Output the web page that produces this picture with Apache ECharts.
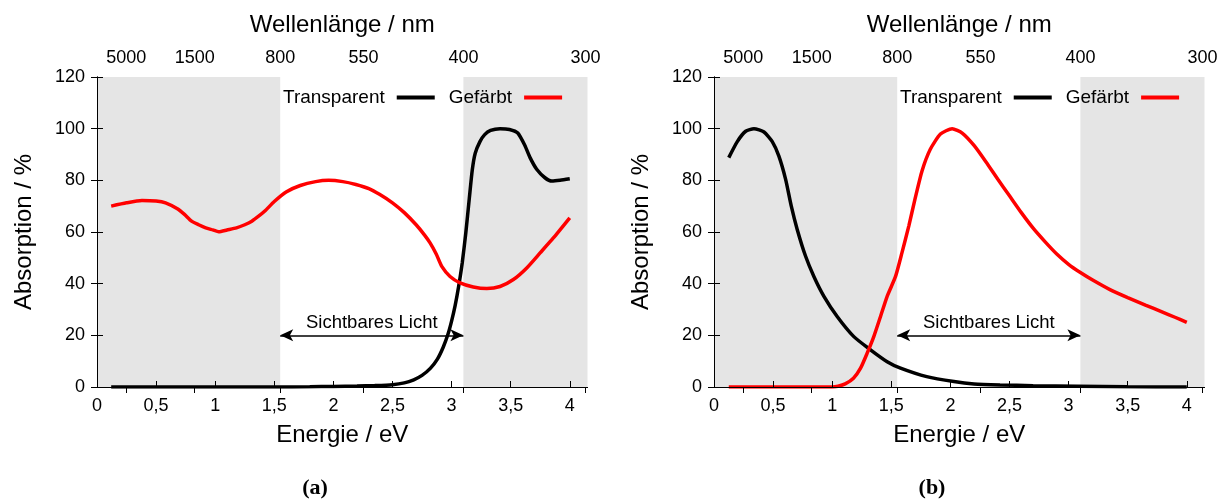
<!DOCTYPE html>
<html><head><meta charset="utf-8">
<script src="https://cdn.jsdelivr.net/npm/echarts@6/dist/echarts.min.js"></script>
<style>html,body{margin:0;padding:0;background:#fff}#c{width:1226px;height:499px}</style>
</head><body><div id="c"></div>
<script>
// ---- tick labels / categories ----
const energyTicks = [0, 0.5, 1, 1.5, 2, 2.5, 3, 3.5, 4];
const wavelengthTicks = [5000, 1500, 800, 550, 400, 300];
const visibleLimitsNm = [800, 400];
const arrowLevel = 20;
const seriesNames = ['Transparent', 'Gefärbt'];
const panelLabels = ['(a)', '(b)'];

// ---- panel (a) ----
const aTransparentX = [0.12, 0.5, 1.0, 1.5, 1.8, 2.0, 2.2, 2.35, 2.5, 2.6, 2.68, 2.75, 2.82, 2.88, 2.93, 2.97, 3.0, 3.03, 3.06, 3.09, 3.12, 3.15, 3.175, 3.2, 3.24, 3.28, 3.33, 3.41, 3.49, 3.56, 3.62, 3.664, 3.72, 3.79, 3.848, 3.918, 4.0];
const aTransparentY = [0, 0, 0, 0, 0.1, 0.2, 0.35, 0.55, 0.9, 1.6, 2.8, 4.5, 7.2, 10.8, 15.5, 20.5, 25.5, 31.5, 39, 48, 59.5, 73, 84, 90.5, 95, 97.7, 99.3, 100, 99.7, 98.3, 93.5, 88.8, 84.3, 81, 79.7, 80, 80.6];
const aColoredX = [0.12, 0.25, 0.38, 0.5, 0.58, 0.68, 0.74, 0.8, 0.86, 0.92, 0.98, 1.03, 1.1, 1.18, 1.25, 1.31, 1.37, 1.42, 1.5, 1.6, 1.72, 1.85, 1.96, 2.08, 2.19, 2.3, 2.39, 2.5, 2.6, 2.7, 2.77, 2.818, 2.87, 2.917, 2.987, 3.072, 3.184, 3.298, 3.41, 3.523, 3.636, 3.749, 3.861, 4.0];
const aColoredY = [70, 71.3, 72.2, 72, 71.3, 69, 66.8, 64.2, 62.8, 61.6, 60.8, 60.1, 60.8, 61.6, 62.8, 64.2, 66.2, 68.1, 71.8, 75.5, 78, 79.5, 80, 79.5, 78.4, 76.8, 74.6, 71.3, 67.5, 62.8, 58.9, 55.8, 51.5, 46.7, 42.8, 40.3, 38.7, 38.1, 38.9, 41.6, 46.1, 51.9, 57.7, 65.5];

// ---- panel (b) ----
const bTransparentX = [0.125, 0.197, 0.268, 0.338, 0.423, 0.493, 0.549, 0.606, 0.654, 0.704, 0.775, 0.845, 0.93, 1.042, 1.183, 1.324, 1.465, 1.578, 1.8, 2.03, 2.2, 2.42, 2.7, 3.08, 3.5, 4.0];
const bTransparentY = [88.8, 95, 99, 100, 98.7, 95, 89.4, 80.4, 70, 61, 50.6, 42.8, 35.1, 27.3, 19.5, 14.4, 9.8, 7.3, 4.0, 2.1, 1.2, 0.8, 0.5, 0.3, 0.1, 0];
const bColoredX = [0.125, 0.5, 1.0, 1.05, 1.11, 1.18, 1.24, 1.296, 1.352, 1.409, 1.465, 1.536, 1.59, 1.648, 1.70, 1.76, 1.83, 1.916, 2.015, 2.1, 2.2, 2.3, 2.4, 2.5, 2.6, 2.7, 2.8, 2.9, 3.0, 3.1, 3.2, 3.35, 3.5, 3.65, 3.8, 3.9, 4.0];
const bColoredY = [0, 0, 0, 0.3, 1.2, 3.4, 7.3, 13.1, 19.5, 27.3, 35.1, 42.8, 51.9, 62.3, 72.6, 83.6, 92, 97.9, 100, 98.3, 93.5, 87.2, 80.5, 74, 67.5, 61.5, 56.3, 51.5, 47.5, 44.3, 41.5, 37.7, 34.6, 31.7, 28.9, 27, 25];

const HC = 1240; // eV*nm
const E = nm => HC / nm;
const eMax = 4.15;
const FONT = 'Liberation Sans, Arial, Helvetica, sans-serif';
const pairs = (xs, ys) => xs.map((x, i) => [x, ys[i]]);

const grids = [
  { left: 97, top: 77, width: 490.5, height: 310 },
  { left: 714, top: 77, width: 490.5, height: 310 }
];

const lineAxis = { show: true, lineStyle: { color: '#000', width: 1 } };
const tickIn = () => ({ show: true, inside: false, length: -6, lineStyle: { color: '#000', width: 1 } });

const xAxes = [], yAxes = [], series = [], legends = [];
const panelData = [
  [pairs(aTransparentX, aTransparentY), pairs(aColoredX, aColoredY)],
  [pairs(bTransparentX, bTransparentY), pairs(bColoredX, bColoredY)]
];
const legendLeft = [278, 895];

grids.forEach((g, gi) => {
  xAxes.push({
    gridIndex: gi, type: 'value', position: 'bottom', min: 0, max: eMax, z: 10,
    axisLine: lineAxis, splitLine: { show: false },
    axisTick: Object.assign(tickIn(), { customValues: energyTicks }),
    axisLabel: { customValues: energyTicks, margin: 10, fontSize: 18, color: '#000', fontFamily: FONT,
      formatter: v => String(v).replace('.', ',') },
    name: 'Energie / eV', nameLocation: 'middle', nameGap: 36,
    nameTextStyle: { fontSize: 24, color: '#000', fontFamily: FONT }
  });
  const wlE = wavelengthTicks.map(E);
  xAxes.push({
    gridIndex: gi, type: 'value', position: 'top', min: 0, max: eMax, z: 10,
    axisLine: lineAxis, splitLine: { show: false },
    axisTick: Object.assign(tickIn(), { customValues: wlE }),
    axisLabel: { customValues: wlE, margin: 10, fontSize: 18, color: '#000', fontFamily: FONT,
      formatter: v => String(Math.round(HC / v)) },
    name: 'Wellenlänge / nm', nameLocation: 'middle', nameGap: 40,
    nameTextStyle: { fontSize: 24, color: '#000', fontFamily: FONT }
  });
  yAxes.push({
    gridIndex: gi, type: 'value', position: 'left', min: 0, max: 120, interval: 20, z: 10,
    axisLine: lineAxis, axisTick: tickIn(), splitLine: { show: false },
    axisLabel: { margin: 12, fontSize: 18, color: '#000', fontFamily: FONT },
    name: 'Absorption / %', nameLocation: 'middle', nameGap: 61,
    nameTextStyle: { fontSize: 24, color: '#000', fontFamily: FONT }
  });
  yAxes.push({
    gridIndex: gi, type: 'value', position: 'right', min: 0, max: 120, interval: 20, z: 10,
    axisLine: lineAxis, axisTick: tickIn(), splitLine: { show: false },
    axisLabel: { show: false }
  });
  const xi = gi * 2, yi = gi * 2;
  series.push({
    name: 'bands' + gi, type: 'line', xAxisIndex: xi, yAxisIndex: yi, data: [], z: 1, silent: true,
    markArea: { silent: true, itemStyle: { color: '#e5e5e5', opacity: 1 },
      data: [[{ xAxis: 0 }, { xAxis: E(visibleLimitsNm[0]) }], [{ xAxis: E(visibleLimitsNm[1]) }, { xAxis: eMax }]] }
  });
  const colors = ['#000000', '#ff0000'];
  seriesNames.forEach((n, si) => {
    series.push({
      name: n, type: 'line', xAxisIndex: xi, yAxisIndex: yi, data: panelData[gi][si],
      showSymbol: false, smooth: 0.2, z: 3, silent: true,
      lineStyle: { color: colors[si], width: 3.5 }, itemStyle: { color: colors[si] }
    });
  });
  series.push({
    name: 'arrow' + gi, type: 'line', xAxisIndex: xi, yAxisIndex: yi, data: [], z: 4, silent: true,
    markLine: { silent: true, symbol: ['arrow', 'arrow'], symbolSize: [9, 13],
      lineStyle: { color: '#000', width: 1.5, type: 'solid' },
      label: { show: true, position: 'middle', formatter: 'Sichtbares Licht', fontSize: 18.5, color: '#000', fontFamily: FONT, distance: 3 },
      data: [[{ coord: [E(visibleLimitsNm[0]), arrowLevel] }, { coord: [E(visibleLimitsNm[1]), arrowLevel] }]] }
  });
  legends.push({
    left: legendLeft[gi], top: 83, orient: 'horizontal', align: 'right', icon: 'rect',
    itemWidth: 38, itemHeight: 4, itemGap: 14, selectedMode: false,
    textStyle: { fontSize: 19, color: '#000', fontFamily: FONT, padding: [0, 7, 0, 0] },
    data: seriesNames
  });
});

const chart = echarts.init(document.getElementById('c'), null, { renderer: 'canvas' });
chart.setOption({
  animation: false,
  backgroundColor: '#fff',
  grid: grids.map(g => Object.assign({ outerBoundsMode: 'none', containLabel: false }, g)),
  xAxis: xAxes, yAxis: yAxes, series: series, legend: legends,
  graphic: panelLabels.map((t, i) => ({
    type: 'text', x: [315, 932][i], y: 488,
    style: { text: t, font: 'bold 22px "Liberation Serif", "Times New Roman", serif', fill: '#000', align: 'center', verticalAlign: 'middle' }
  }))
});
</script></body></html>
